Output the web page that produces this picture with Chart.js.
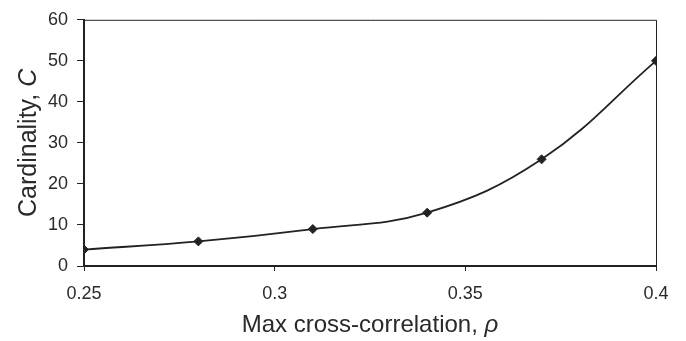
<!DOCTYPE html>
<html><head><meta charset="utf-8">
<script src="https://cdn.jsdelivr.net/npm/chart.js@4/dist/chart.umd.min.js"></script>
<style>html,body{margin:0;padding:0;background:#fff}#wrap{width:686px;height:341px}</style>
</head><body><div id="wrap"><canvas id="c" width="686" height="341"></canvas></div>
<script>
const rho = [0.25, 0.28, 0.31, 0.34, 0.37, 0.4];
const cardinality = [4, 6, 9, 13, 26, 50];
const xTicks = [0.25, 0.3, 0.35, 0.4];
const yTicks = [0, 10, 20, 30, 40, 50, 60];
const xTitle = ["Max cross-correlation, ", "ρ"];
const yTitle = ["Cardinality, ", "C"];

const FONT = "'Liberation Sans', Arial, sans-serif";
const INK = '#222';

const titles = {
  id: 'titles',
  afterDraw(chart) {
    const ctx = chart.ctx, a = chart.chartArea;
    ctx.save();
    ctx.strokeStyle = INK; ctx.lineWidth = 1;
    ctx.beginPath();
    ctx.moveTo(a.left, a.top + 0.5); ctx.lineTo(a.right + 0.5, a.top + 0.5); ctx.lineTo(a.right + 0.5, a.bottom);
    ctx.stroke();
    ctx.fillStyle = '#2a2a2a';
    ctx.textBaseline = 'alphabetic';
    const draw = (parts, cx, cy, size) => {
      const f0 = size + 'px ' + FONT, f1 = 'italic ' + size + 'px ' + FONT;
      ctx.font = f0; const w0 = ctx.measureText(parts[0]).width;
      ctx.font = f1; const w1 = ctx.measureText(parts[1]).width;
      let x = cx - (w0 + w1) / 2;
      ctx.textAlign = 'left';
      ctx.font = f0; ctx.fillText(parts[0], x, cy);
      ctx.font = f1; ctx.fillText(parts[1], x + w0, cy);
    };
    draw(xTitle, (a.left + a.right) / 2, 332, 24);
    ctx.translate(36, (a.top + a.bottom) / 2);
    ctx.rotate(-Math.PI / 2);
    draw(yTitle, 0, 0, 25);
    ctx.restore();
  }
};

new Chart(document.getElementById('c'), {
  type: 'line',
  data: { datasets: [{
    data: rho.map((x, i) => ({ x, y: cardinality[i] })),
    borderColor: INK, borderWidth: 1.8,
    pointStyle: 'rectRot', pointRadius: 4.5, pointBackgroundColor: INK, pointBorderColor: INK, pointBorderWidth: 1,
    tension: 0.4, fill: false
  }]},
  plugins: [titles],
  options: {
    responsive: false, animation: false,
    layout: { padding: { top: 18, right: 30, left: 0, bottom: 0 } },
    plugins: { legend: { display: false }, tooltip: { enabled: false } },
    scales: {
      x: {
        type: 'linear', min: 0.25, max: 0.4,
        afterBuildTicks: s => { s.ticks = xTicks.map(v => ({ value: v })); },
        afterFit: s => { s.height = 75; },
        grid: { drawOnChartArea: false, drawTicks: true, tickLength: 5, color: INK, lineWidth: 1 },
        border: { display: true, color: INK, width: 2 },
        ticks: { color: '#2a2a2a', font: { family: FONT, size: 18 }, padding: 12, maxRotation: 0,
                 callback: v => String(v) }
      },
      y: {
        min: 0, max: 60,
        afterBuildTicks: s => { s.ticks = yTicks.map(v => ({ value: v })); },
        afterFit: s => { s.width = 84; },
        grid: { drawOnChartArea: false, drawTicks: true, tickLength: 7, color: INK, lineWidth: 1 },
        border: { display: true, color: INK, width: 2 },
        ticks: { color: '#2a2a2a', font: { family: FONT, size: 18 }, padding: 9 }
      }
    }
  }
});
</script></body></html>
